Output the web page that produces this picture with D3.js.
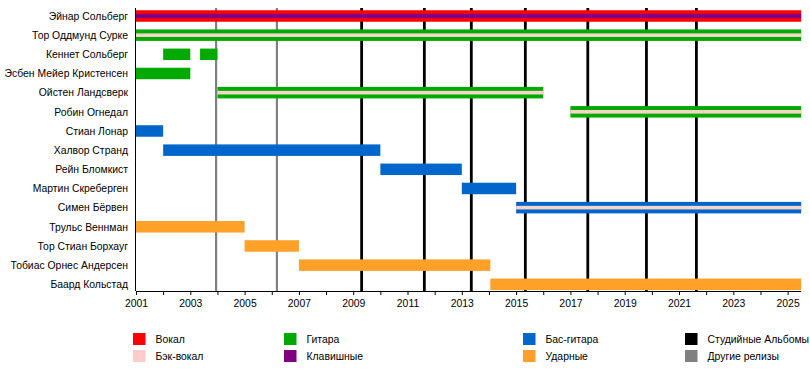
<!DOCTYPE html>
<html><head><meta charset="utf-8">
<script src="https://cdn.jsdelivr.net/npm/d3@7"></script>
<style>body{margin:0;background:#fff}svg{display:block;font-family:"Liberation Sans",Arial,sans-serif}</style>
</head><body>
<svg id="c" width="810" height="370"></svg>
<script>
const members = ["Эйнар Сольберг","Тор Оддмунд Сурке","Кеннет Сольберг","Эсбен Мейер Кристенсен","Ойстен Ландсверк","Робин Огнедал","Стиан Лонар","Халвор Странд","Рейн Бломкист","Мартин Скреберген","Симен Бёрвен","Трульс Веннман","Тор Стиан Борхауг","Тобиас Орнес Андерсен","Баард Кольстад"];
const END = 2025.5;
// [member, start, end, role, stripe role]
const periods = [
  ["Эйнар Сольберг", 2001, END, "vocal", "keys"],
  ["Тор Оддмунд Сурке", 2001, END, "guitar", "bv"],
  ["Кеннет Сольберг", 2002, 2003, "guitar", null],
  ["Кеннет Сольберг", 2003.36, 2004, "guitar", null],
  ["Эсбен Мейер Кристенсен", 2001, 2003, "guitar", null],
  ["Ойстен Ландсверк", 2004, 2016, "guitar", "bv"],
  ["Робин Огнедал", 2017, END, "guitar", "bv"],
  ["Стиан Лонар", 2001, 2002, "bass", null],
  ["Халвор Странд", 2002, 2010, "bass", null],
  ["Рейн Бломкист", 2010, 2013, "bass", null],
  ["Мартин Скреберген", 2013, 2015, "bass", null],
  ["Симен Бёрвен", 2015, END, "bass", "bv"],
  ["Трульс Веннман", 2001, 2005, "drums", null],
  ["Тор Стиан Борхауг", 2005, 2007, "drums", null],
  ["Тобиас Орнес Андерсен", 2007, 2014.05, "drums", null],
  ["Баард Кольстад", 2014.05, END, "drums", null]
];
const studioAlbums = [2009.31, 2011.62, 2013.35, 2015.34, 2017.64, 2019.8, 2021.64];
const otherReleases = [2003.95, 2006.19];
const tickYears = d3.range(2001, 2026);
const legendItems = [
  ["vocal","Вокал"],["bv","Бэк-вокал"],["guitar","Гитара"],["keys","Клавишные"],
  ["bass","Бас-гитара"],["drums","Ударные"],["studio","Студийные Альбомы"],["other","Другие релизы"]
];
const colors = {vocal:"#ff0000", bv:"#ffcccc", guitar:"#00aa00", keys:"#800080", bass:"#0066cc", drums:"#ffa028", studio:"#000000", other:"#808080"};
const stripeColors = {keys:"#800080", bv:"#f5d6c8"};

const FS = 10.4;
const svg = d3.select("#c");
const x = d3.scaleLinear().domain([2001, END]).range([136, 801.2]);
const y = d3.scalePoint().domain(members).range([16, 284.3]);
const plotTop = 8, axisY = 291, barH = 11.5;

// vertical release lines
svg.append("g").selectAll("line").data(otherReleases).join("line")
  .attr("x1", d=>x(d)).attr("x2", d=>x(d)).attr("y1", plotTop).attr("y2", axisY)
  .attr("stroke", colors.other).attr("stroke-width", 2.2);
svg.append("g").selectAll("line").data(studioAlbums).join("line")
  .attr("x1", d=>x(d)).attr("x2", d=>x(d)).attr("y1", plotTop).attr("y2", axisY)
  .attr("stroke", colors.studio).attr("stroke-width", 2.8);

// bars
const bars = svg.append("g");
bars.selectAll("rect.bar").data(periods).join("rect").attr("class","bar")
  .attr("x", d=>x(d[1])).attr("width", d=>x(d[2])-x(d[1]))
  .attr("y", d=>y(d[0])-barH/2).attr("height", barH)
  .attr("fill", d=>colors[d[3]]);
bars.selectAll("rect.stripe").data(periods.filter(d=>d[4])).join("rect").attr("class","stripe")
  .attr("x", d=>x(d[1])).attr("width", d=>x(d[2])-x(d[1]))
  .attr("y", d=>y(d[0])-(d[4]==="keys"?2.2:1.8)).attr("height", d=>d[4]==="keys"?4.4:3.6)
  .attr("fill", d=>stripeColors[d[4]]);

// member labels
svg.append("g").selectAll("text").data(members).join("text")
  .attr("x", 128).attr("y", d=>y(d)).attr("dy","0.36em")
  .attr("text-anchor","end").attr("font-size", FS).attr("fill","#000").text(d=>d);

// left axis line
svg.append("line").attr("x1",135.5).attr("x2",135.5).attr("y1",plotTop).attr("y2",axisY)
  .attr("stroke","#000").attr("stroke-width",1);

// bottom axis
const axis = d3.axisBottom(x).tickValues(tickYears).tickSize(4)
  .tickFormat(d => (d-2001)%2===0 ? String(d) : "");
const ag = svg.append("g").attr("transform",`translate(0,${axisY})`).call(axis);
ag.select(".domain").attr("d", `M${x(2001)},0.5H${x(END)}`).attr("stroke","#000");
ag.selectAll("text").attr("font-size",FS).attr("font-family","Liberation Sans, Arial, sans-serif").attr("fill","#000").attr("dy","0.75em").attr("y",8);
ag.selectAll(".tick line").attr("stroke","#000");

// legend
const legX = [133, 284, 523, 685];
const lg = svg.append("g");
legendItems.forEach((it,i)=>{
  const col = Math.floor(i/2), row = i%2;
  const gx = legX[col], gy = 333 + row*17;
  lg.append("rect").attr("x",gx).attr("y",gy).attr("width",12.5).attr("height",12).attr("fill",colors[it[0]]);
  lg.append("text").attr("x",gx+22.5).attr("y",gy+6).attr("dy","0.36em").attr("font-size",FS).attr("fill","#000").text(it[1]);
});
</script>
</body></html>
